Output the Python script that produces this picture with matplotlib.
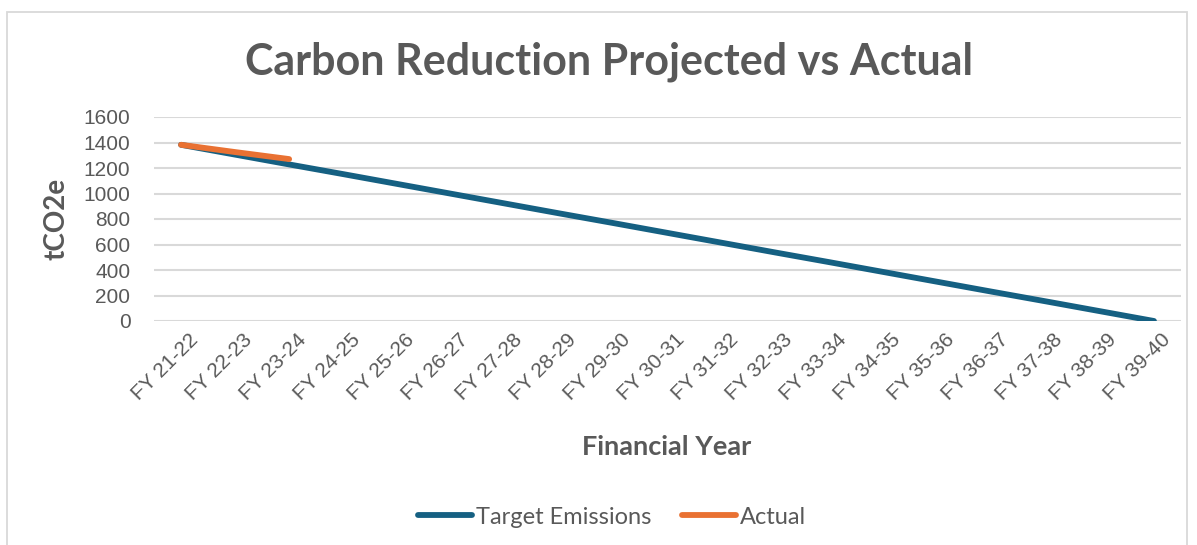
import numpy as np
import matplotlib
matplotlib.use("Agg")
import matplotlib.pyplot as plt
import matplotlib.transforms as mtransforms
from matplotlib.patches import Rectangle

# financial years on the x axis
years = ["FY 21-22", "FY 22-23", "FY 23-24", "FY 24-25", "FY 25-26", "FY 26-27",
         "FY 27-28", "FY 28-29", "FY 29-30", "FY 30-31", "FY 31-32", "FY 32-33",
         "FY 33-34", "FY 34-35", "FY 35-36", "FY 36-37", "FY 37-38", "FY 38-39",
         "FY 39-40"]
target = [1382, 1305, 1228, 1152, 1075, 998, 921, 844, 768, 691, 614, 537,
          461, 384, 307, 230, 154, 77, 0]
actual = [1382, 1325, 1270]

grey = "#595959"
c_target = "#156082"
c_actual = "#E97132"
bold_font = ['Lato', 'DejaVu Sans']

plt.rcParams['font.family'] = ['Liberation Sans', 'DejaVu Sans']

fig = plt.figure(figsize=(11.97, 5.45), dpi=100)
ax = fig.add_axes([154/1197, 1-321/545, (1181-154)/1197, (321-117)/545])

x = np.arange(len(years))
ax.plot(x, target, color=c_target, lw=4.2, solid_capstyle='round', label="Target Emissions", zorder=3)
ax.plot(x[:len(actual)], actual, color=c_actual, lw=4.2, solid_capstyle='round', label="Actual", zorder=4)

ax.set_xlim(-0.5, len(years) - 0.5)
ax.set_ylim(0, 1600)
ax.set_yticks(range(0, 1601, 200))
ax.set_xticks(x)
ax.set_xticklabels(years, rotation=45, ha='right', va='top', rotation_mode='anchor')
ax.tick_params(axis='both', length=0, labelsize=15, labelcolor=grey)
ax.tick_params(axis='y', pad=17)
ax.tick_params(axis='x', pad=8)
shift = mtransforms.ScaledTranslation(7/100, 2/100, fig.dpi_scale_trans)
for lbl in ax.get_xticklabels():
    lbl.set_transform(lbl.get_transform() + shift)
ax.grid(axis='y', color="#D9D9D9", lw=1.5)
ax.set_axisbelow(True)
for s in ax.spines.values():
    s.set_visible(False)

ax.set_ylabel("tCO2e", fontsize=20, fontweight='bold', color=grey, labelpad=10, family=bold_font)
fig.text(667/1197, 1-447/545, "Financial Year", fontsize=19.5, fontweight='bold', color=grey,
         ha='center', va='center', family=bold_font)
fig.text(609/1197, 1-62/545, "Carbon Reduction Projected vs Actual", fontsize=31,
         fontweight='bold', color=grey, ha='center', va='center', family=bold_font)

leg = fig.legend(loc='center', bbox_to_anchor=(612/1197, 1-517/545), ncol=2, frameon=False,
                 handlelength=2.3, handletextpad=0.15, columnspacing=1.3,
                 prop={'family': bold_font, 'size': 17})
for t in leg.get_texts():
    t.set_color(grey)

fig.add_artist(Rectangle((7/1197, -0.05), (1187-7)/1197, 1.05 - 12/545, transform=fig.transFigure,
                         fill=False, edgecolor="#D9D9D9", lw=1.3))

fig.savefig("out.png", dpi=100)
